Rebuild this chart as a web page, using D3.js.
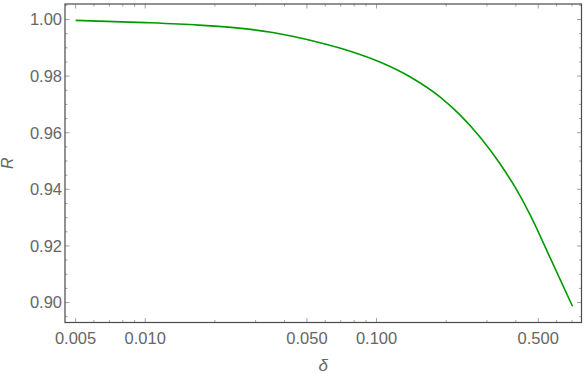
<!DOCTYPE html>
<html>
<head>
<meta charset="utf-8">
<script src="https://cdn.jsdelivr.net/npm/d3@7"></script>
<style>
  body { margin: 0; background: #fff; }
  text { font-family: "Liberation Sans", Arial, sans-serif; }
</style>
</head>
<body>
<div id="chart"></div>
<script>
// Dữ liệu
const deltaVals = [0.005, 0.010, 0.017, 0.026, 0.035, 0.057, 0.077, 0.104, 0.140, 0.189, 0.230, 0.281, 0.340, 0.400, 0.463, 0.565, 0.703];
const rVals     = [0.9997, 0.9989, 0.9980, 0.99685, 0.9955, 0.9918, 0.9888, 0.9849, 0.9797, 0.9725, 0.9662, 0.9583, 0.9493, 0.9403, 0.9307, 0.9155, 0.8987];

const xMajor = [0.005, 0.01, 0.05, 0.1, 0.5];
const xMinor = [0.006, 0.007, 0.008, 0.009, 0.02, 0.03, 0.04, 0.06, 0.07, 0.08, 0.09, 0.2, 0.3, 0.4, 0.6, 0.7];
const yMajor = [0.90, 0.92, 0.94, 0.96, 0.98, 1.00];
const yMinor = [0.895, 0.905, 0.91, 0.915, 0.925, 0.93, 0.935, 0.945, 0.95, 0.955, 0.965, 0.97, 0.975, 0.985, 0.99, 0.995, 1.005];

const W = 584, H = 377;
const margin = { top: 4, right: 2.5, bottom: 54.5, left: 65 },
      width = W - margin.left - margin.right,
      height = H - margin.top - margin.bottom;

const svg = d3.select("#chart").append("svg")
    .attr("width", W)
    .attr("height", H)
  .append("g")
    .attr("transform", `translate(${margin.left},${margin.top})`);

const x = d3.scaleLog().domain([0.0045, 0.769]).range([0, width]);
const y = d3.scaleLinear().domain([0.89295, 1.00547]).range([height, 0]);

const tickCol = "#8c8c8c", frameCol = "#4a4a4a", labelCol = "#666";

// Vạch chia (hướng vào trong, cả 4 cạnh)
function xTicks(vals, len) {
  vals.forEach(v => {
    svg.append("line").attr("x1", x(v)).attr("x2", x(v))
      .attr("y1", height).attr("y2", height - len)
      .attr("stroke", tickCol).attr("stroke-width", 0.8);
    svg.append("line").attr("x1", x(v)).attr("x2", x(v))
      .attr("y1", 0).attr("y2", len)
      .attr("stroke", tickCol).attr("stroke-width", 0.8);
  });
}
function yTicks(vals, len) {
  vals.forEach(v => {
    svg.append("line").attr("x1", 0).attr("x2", len)
      .attr("y1", y(v)).attr("y2", y(v))
      .attr("stroke", tickCol).attr("stroke-width", 0.8);
    svg.append("line").attr("x1", width).attr("x2", width - len)
      .attr("y1", y(v)).attr("y2", y(v))
      .attr("stroke", tickCol).attr("stroke-width", 0.8);
  });
}
xTicks(xMajor, 4.5); xTicks(xMinor, 2.5);
yTicks(yMajor, 4.5); yTicks(yMinor, 2.5);

// Khung
svg.append("rect")
  .attr("x", 0).attr("y", 0)
  .attr("width", width).attr("height", height)
  .attr("fill", "none")
  .attr("stroke", frameCol)
  .attr("stroke-width", 1.2);

// Nhãn trục
svg.selectAll(".xl").data(xMajor).enter().append("text")
  .attr("x", d => x(d)).attr("y", height + 21.5)
  .attr("text-anchor", "middle")
  .attr("fill", labelCol).style("font-size", "16.5px")
  .text(d => d3.format(".3f")(d));

svg.selectAll(".yl").data(yMajor).enter().append("text")
  .attr("x", -3).attr("y", d => y(d))
  .attr("dy", "0.36em")
  .attr("text-anchor", "end")
  .attr("fill", labelCol).style("font-size", "16.5px")
  .text(d => d3.format(".2f")(d));

// Đường cong
const pts = deltaVals.map((d, i) => [d, rVals[i]]);
svg.append("path")
  .datum(pts)
  .attr("fill", "none")
  .attr("stroke", "#009a00")
  .attr("stroke-width", 1.6)
  .attr("d", d3.line().x(d => x(d[0])).y(d => y(d[1])).curve(d3.curveMonotoneX));

// Tiêu đề trục
svg.append("text")
  .attr("x", width / 2).attr("y", height + 48)
  .attr("text-anchor", "middle")
  .attr("fill", labelCol).style("font-size", "17px").style("font-style", "italic")
  .text("δ");

svg.append("text")
  .attr("transform", `translate(${-margin.left + 13},${height / 2}) rotate(-90)`)
  .attr("text-anchor", "middle")
  .attr("fill", labelCol).style("font-size", "16px").style("font-style", "italic")
  .text("R");
</script>
</body>
</html>
